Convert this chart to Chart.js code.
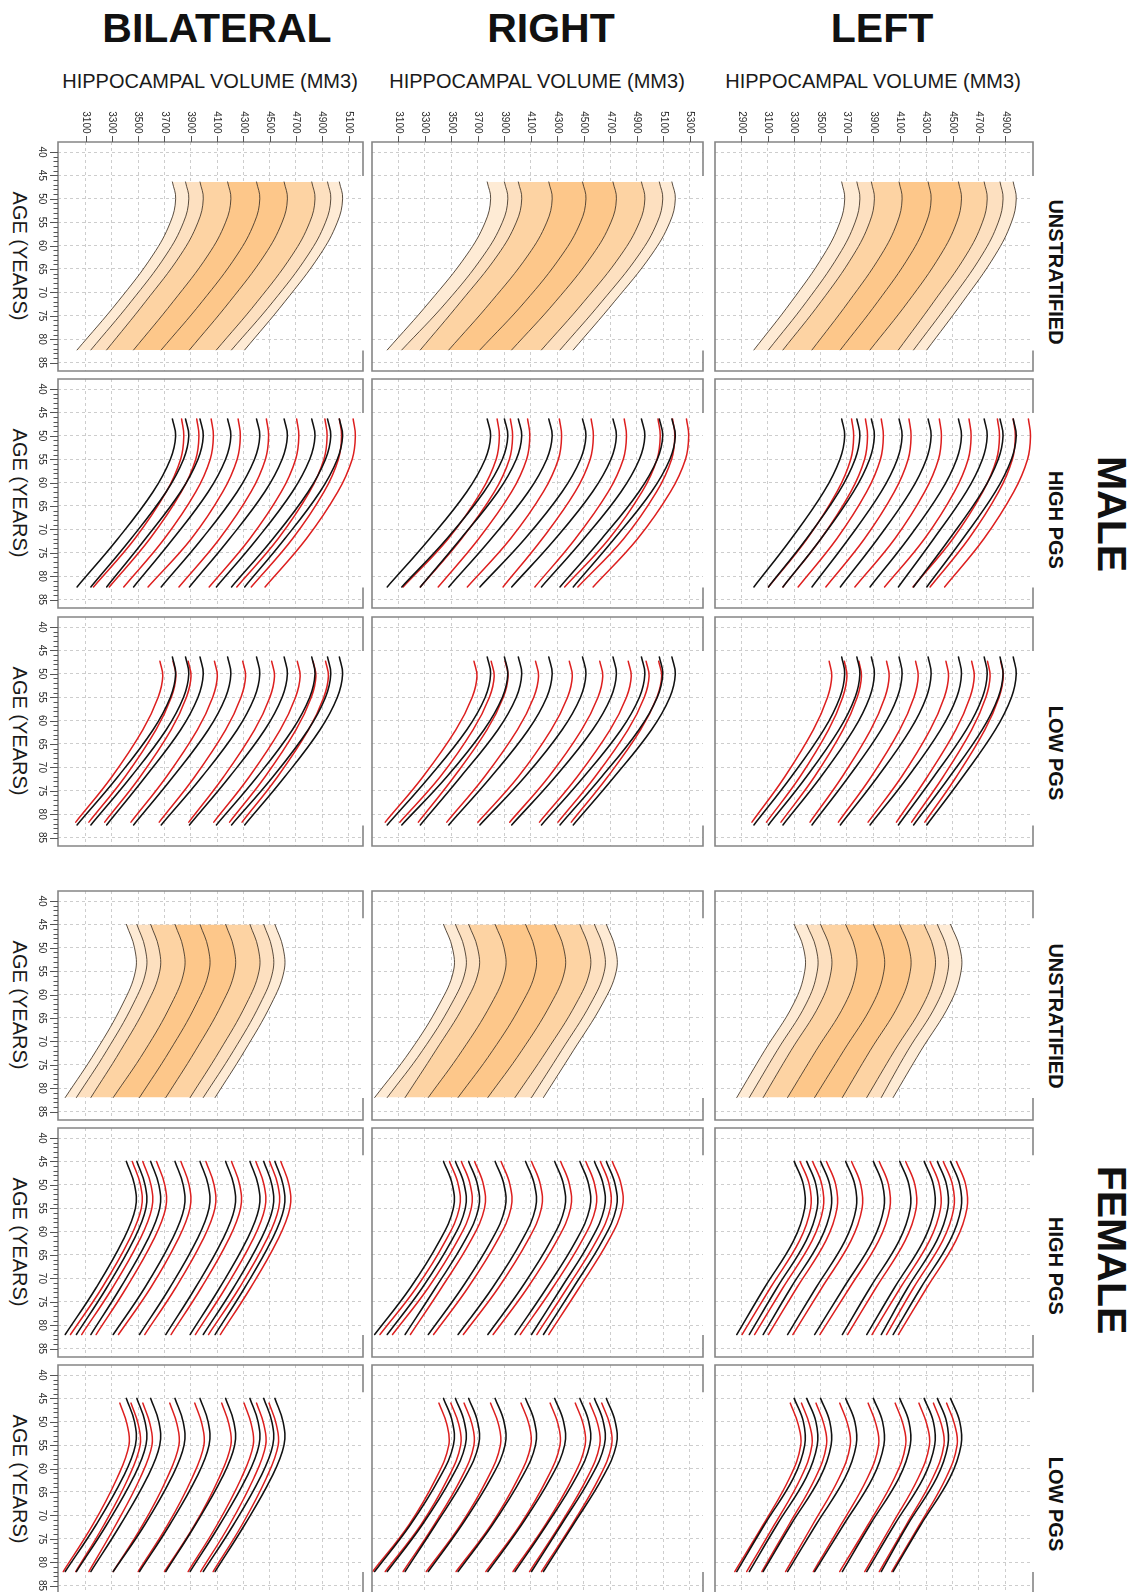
<!DOCTYPE html>
<html>
<head>
<meta charset="utf-8">
<script src="https://cdn.jsdelivr.net/npm/chart.js@4/dist/chart.umd.min.js"></script>
<style>
  html, body { margin: 0; padding: 0; background: #fff; }
  body { width: 1135px; height: 1592px; position: relative; overflow: hidden;
         font-family: "Liberation Sans", Arial, Helvetica, sans-serif; color: #111; }
  .lbl { position: absolute; white-space: nowrap; line-height: 1; transform: translate(-50%, -50%); }
  .rot { transform: translate(-50%, -50%) rotate(90deg); }
  .title { font-weight: bold; font-size: 41px; }
  .axis { font-size: 20px; color: #1a1a1a; }
  .strip { font-weight: bold; font-size: 20px; }
  .sex { font-weight: bold; font-size: 41px; }
  canvas { position: absolute; }
</style>
</head>
<body>

<div class="lbl title" style="left:217px;top:28px">BILATERAL</div>
<div class="lbl title" style="left:551px;top:28px">RIGHT</div>
<div class="lbl title" style="left:882px;top:28px">LEFT</div>

<div class="lbl axis" style="left:210px;top:81px">HIPPOCAMPAL VOLUME (MM3)</div>
<div class="lbl axis" style="left:537px;top:81px">HIPPOCAMPAL VOLUME (MM3)</div>
<div class="lbl axis" style="left:873px;top:81px">HIPPOCAMPAL VOLUME (MM3)</div>

<div class="lbl axis rot" style="left:20px;top:256px">AGE (YEARS)</div>
<div class="lbl axis rot" style="left:20px;top:493px">AGE (YEARS)</div>
<div class="lbl axis rot" style="left:20px;top:731px">AGE (YEARS)</div>
<div class="lbl axis rot" style="left:20px;top:1005px">AGE (YEARS)</div>
<div class="lbl axis rot" style="left:20px;top:1242px">AGE (YEARS)</div>
<div class="lbl axis rot" style="left:20px;top:1479px">AGE (YEARS)</div>

<div class="lbl strip rot" style="left:1056px;top:272px">UNSTRATIFIED</div>
<div class="lbl strip rot" style="left:1056px;top:520px">HIGH PGS</div>
<div class="lbl strip rot" style="left:1056px;top:753px">LOW PGS</div>
<div class="lbl strip rot" style="left:1056px;top:1016px">UNSTRATIFIED</div>
<div class="lbl strip rot" style="left:1056px;top:1266px">HIGH PGS</div>
<div class="lbl strip rot" style="left:1056px;top:1504px">LOW PGS</div>

<div class="lbl sex rot" style="left:1111px;top:514px">MALE</div>
<div class="lbl sex rot" style="left:1111px;top:1250px">FEMALE</div>

<script>
// ---------- axis ticks ----------
const BILATERAL_TICKS = [3100, 3300, 3500, 3700, 3900, 4100, 4300, 4500, 4700, 4900, 5100];
const RIGHT_TICKS     = [3100, 3300, 3500, 3700, 3900, 4100, 4300, 4500, 4700, 4900, 5100, 5300];
const LEFT_TICKS      = [2900, 3100, 3300, 3500, 3700, 3900, 4100, 4300, 4500, 4700, 4900];
const AGE_TICKS       = [40, 45, 50, 55, 60, 65, 70, 75, 80, 85];

// ---------- ages at which each centile curve is given ----------
const AGES_MALE           = [46.4, 50, 55, 62, 72, 82.3];
const AGES_MALE_LOW_PGS   = [47.3, 50.5, 55, 62, 72, 81.7];
const AGES_FEMALE         = [45, 50, 55, 62, 72, 82];
const AGES_FEMALE_LOW_PGS = [46, 50.5, 55, 62, 72, 82];

const CENTILES = ['2.5', '5', '10', '25', '50', '75', '90', '95', '97.5'];

// ---------- MALE: whole-sample centile curves (volume in mm3 per age) ----------
const maleBilateral = [
  [3760, 3785, 3745, 3612, 3345, 3035],
  [3860, 3885, 3845, 3712, 3445, 3140],
  [3970, 3995, 3955, 3822, 3555, 3260],
  [4180, 4205, 4165, 4032, 3765, 3465],
  [4400, 4425, 4385, 4252, 3985, 3675],
  [4610, 4635, 4595, 4462, 4195, 3890],
  [4820, 4845, 4805, 4672, 4405, 4095],
  [4940, 4965, 4925, 4792, 4525, 4210],
  [5030, 5055, 5015, 4882, 4615, 4310]
];
const maleRight = [
  [3770, 3796, 3755, 3615, 3335, 3015],
  [3900, 3926, 3885, 3745, 3465, 3125],
  [4005, 4031, 3990, 3850, 3570, 3265],
  [4235, 4261, 4220, 4080, 3800, 3480],
  [4490, 4516, 4475, 4335, 4055, 3715],
  [4720, 4746, 4705, 4565, 4285, 3955],
  [4935, 4961, 4920, 4780, 4500, 4180],
  [5070, 5096, 5055, 4915, 4635, 4320],
  [5165, 5191, 5150, 5010, 4730, 4420]
];
const maleLeft = [
  [3660, 3683, 3647, 3524, 3278, 2995],
  [3775, 3798, 3762, 3639, 3393, 3105],
  [3885, 3908, 3872, 3749, 3503, 3215],
  [4095, 4118, 4082, 3959, 3713, 3435],
  [4315, 4338, 4302, 4179, 3933, 3650],
  [4545, 4568, 4532, 4409, 4163, 3875],
  [4740, 4763, 4727, 4604, 4358, 4090],
  [4860, 4883, 4847, 4724, 4478, 4205],
  [4960, 4983, 4947, 4824, 4578, 4305]
];

// ---------- MALE: centile curves within PGS strata ----------
const maleBilateralHighPgs = [
  [3830, 3847, 3823, 3713, 3474, 3160],
  [3945, 3962, 3938, 3828, 3589, 3280],
  [4055, 4072, 4048, 3938, 3699, 3390],
  [4260, 4277, 4253, 4143, 3904, 3575],
  [4475, 4492, 4468, 4358, 4119, 3810],
  [4705, 4722, 4698, 4588, 4349, 4040],
  [4920, 4937, 4913, 4803, 4564, 4250],
  [5030, 5047, 5023, 4913, 4674, 4360],
  [5135, 5152, 5128, 5018, 4779, 4465]
];
const maleRightHighPgs = [
  [3845, 3862, 3838, 3724, 3476, 3135],
  [3945, 3962, 3938, 3824, 3576, 3265],
  [4075, 4092, 4068, 3954, 3706, 3400],
  [4315, 4332, 4308, 4194, 3946, 3620],
  [4555, 4572, 4548, 4434, 4186, 3890],
  [4805, 4822, 4798, 4684, 4436, 4130],
  [5060, 5077, 5053, 4939, 4691, 4355],
  [5170, 5187, 5163, 5049, 4801, 4455],
  [5275, 5292, 5268, 5154, 4906, 4570]
];
const maleLeftHighPgs = [
  [3735, 3751, 3729, 3624, 3398, 3105],
  [3840, 3856, 3834, 3729, 3503, 3215],
  [3960, 3976, 3954, 3849, 3623, 3330],
  [4170, 4186, 4164, 4059, 3833, 3540],
  [4400, 4416, 4394, 4289, 4063, 3760],
  [4625, 4641, 4619, 4514, 4288, 3985],
  [4840, 4856, 4834, 4729, 4503, 4200],
  [4960, 4976, 4954, 4849, 4623, 4330],
  [5075, 5091, 5069, 4964, 4738, 4440]
];
const maleBilateralLowPgs = [
  [3665, 3687, 3652, 3535, 3300, 3025],
  [3765, 3787, 3752, 3635, 3400, 3125],
  [3880, 3902, 3867, 3750, 3515, 3245],
  [4080, 4102, 4067, 3950, 3715, 3445],
  [4295, 4317, 4282, 4165, 3930, 3660],
  [4515, 4537, 4502, 4385, 4150, 3885],
  [4710, 4732, 4697, 4580, 4345, 4075],
  [4830, 4852, 4817, 4700, 4465, 4195],
  [4925, 4947, 4912, 4795, 4560, 4290]
];
const maleRightLowPgs = [
  [3670, 3693, 3657, 3533, 3285, 3000],
  [3800, 3823, 3787, 3663, 3415, 3110],
  [3905, 3928, 3892, 3768, 3520, 3250],
  [4135, 4158, 4122, 3998, 3750, 3465],
  [4390, 4413, 4377, 4253, 4005, 3700],
  [4620, 4643, 4607, 4483, 4235, 3940],
  [4835, 4858, 4822, 4698, 4450, 4165],
  [4970, 4993, 4957, 4833, 4585, 4305],
  [5065, 5088, 5052, 4928, 4680, 4405]
];
const maleLeftLowPgs = [
  [3565, 3585, 3553, 3445, 3229, 2980],
  [3680, 3700, 3668, 3560, 3344, 3090],
  [3790, 3810, 3778, 3670, 3454, 3200],
  [4000, 4020, 3988, 3880, 3664, 3420],
  [4220, 4240, 4208, 4100, 3884, 3635],
  [4450, 4470, 4438, 4330, 4114, 3860],
  [4645, 4665, 4633, 4525, 4309, 4075],
  [4765, 4785, 4753, 4645, 4429, 4190],
  [4865, 4885, 4853, 4745, 4529, 4290]
];

// ---------- FEMALE: whole-sample centile curves ----------
const femaleBilateral = [
  [3410, 3472, 3479, 3382, 3180, 2945],
  [3490, 3552, 3559, 3462, 3260, 3030],
  [3595, 3657, 3664, 3567, 3365, 3140],
  [3780, 3842, 3849, 3752, 3550, 3310],
  [3970, 4032, 4039, 3942, 3740, 3510],
  [4165, 4227, 4234, 4137, 3935, 3710],
  [4350, 4412, 4419, 4322, 4120, 3895],
  [4455, 4517, 4524, 4427, 4225, 3995],
  [4540, 4602, 4609, 4512, 4310, 4085]
];
const femaleRight = [
  [3440, 3507, 3515, 3410, 3190, 2920],
  [3530, 3597, 3605, 3500, 3280, 3015],
  [3630, 3697, 3705, 3600, 3380, 3150],
  [3830, 3897, 3905, 3800, 3580, 3325],
  [4060, 4127, 4135, 4030, 3810, 3550],
  [4280, 4347, 4355, 4250, 4030, 3775],
  [4470, 4537, 4545, 4440, 4220, 3980],
  [4580, 4647, 4655, 4550, 4330, 4105],
  [4670, 4737, 4745, 4640, 4420, 4195]
];
const femaleLeft = [
  [3300, 3370, 3380, 3295, 3075, 2865],
  [3395, 3465, 3475, 3390, 3170, 2960],
  [3500, 3570, 3580, 3495, 3275, 3065],
  [3690, 3760, 3770, 3685, 3465, 3250],
  [3900, 3970, 3980, 3895, 3675, 3455],
  [4100, 4170, 4180, 4095, 3875, 3665],
  [4285, 4355, 4365, 4280, 4060, 3850],
  [4385, 4455, 4465, 4380, 4160, 3960],
  [4485, 4555, 4565, 4480, 4260, 4050]
];

// ---------- FEMALE: centile curves within PGS strata ----------
const femaleBilateralHighPgs = [
  [3455, 3517, 3524, 3427, 3225, 2985],
  [3535, 3597, 3604, 3507, 3305, 3070],
  [3640, 3702, 3709, 3612, 3410, 3180],
  [3825, 3887, 3894, 3797, 3595, 3350],
  [4015, 4077, 4084, 3987, 3785, 3550],
  [4210, 4272, 4279, 4182, 3980, 3750],
  [4395, 4457, 4464, 4367, 4165, 3935],
  [4500, 4562, 4569, 4472, 4270, 4035],
  [4585, 4647, 4654, 4557, 4355, 4125]
];
const femaleRightHighPgs = [
  [3485, 3552, 3560, 3455, 3235, 2960],
  [3575, 3642, 3650, 3545, 3325, 3055],
  [3675, 3742, 3750, 3645, 3425, 3190],
  [3875, 3942, 3950, 3845, 3625, 3365],
  [4105, 4172, 4180, 4075, 3855, 3590],
  [4325, 4392, 4400, 4295, 4075, 3815],
  [4515, 4582, 4590, 4485, 4265, 4020],
  [4625, 4692, 4700, 4595, 4375, 4145],
  [4715, 4782, 4790, 4685, 4465, 4235]
];
const femaleLeftHighPgs = [
  [3345, 3415, 3425, 3340, 3120, 2905],
  [3440, 3510, 3520, 3435, 3215, 3000],
  [3545, 3615, 3625, 3540, 3320, 3105],
  [3735, 3805, 3815, 3730, 3510, 3290],
  [3945, 4015, 4025, 3940, 3720, 3495],
  [4145, 4215, 4225, 4140, 3920, 3705],
  [4330, 4400, 4410, 4325, 4105, 3890],
  [4430, 4500, 4510, 4425, 4205, 4000],
  [4530, 4600, 4610, 4525, 4305, 4090]
];
const femaleBilateralLowPgs = [
  [3360, 3415, 3430, 3340, 3155, 2930],
  [3445, 3500, 3515, 3425, 3240, 3025],
  [3535, 3590, 3605, 3515, 3330, 3125],
  [3740, 3795, 3810, 3720, 3535, 3310],
  [3930, 3985, 4000, 3910, 3725, 3500],
  [4135, 4190, 4205, 4115, 3930, 3700],
  [4305, 4360, 4375, 4285, 4100, 3880],
  [4400, 4455, 4470, 4380, 4195, 3975],
  [4495, 4550, 4565, 4475, 4290, 4070]
];
const femaleRightLowPgs = [
  [3405, 3465, 3480, 3385, 3180, 2905],
  [3495, 3555, 3570, 3475, 3270, 3000],
  [3595, 3655, 3670, 3575, 3370, 3135],
  [3795, 3855, 3870, 3775, 3570, 3310],
  [4025, 4085, 4100, 4005, 3800, 3535],
  [4245, 4305, 4320, 4225, 4020, 3760],
  [4435, 4495, 4510, 4415, 4210, 3965],
  [4545, 4605, 4620, 4525, 4320, 4090],
  [4635, 4695, 4710, 4615, 4410, 4180]
];
const femaleLeftLowPgs = [
  [3270, 3330, 3350, 3265, 3065, 2850],
  [3355, 3415, 3435, 3350, 3150, 2940],
  [3465, 3525, 3545, 3460, 3260, 3055],
  [3645, 3705, 3725, 3640, 3440, 3235],
  [3860, 3920, 3940, 3855, 3655, 3445],
  [4065, 4125, 4145, 4060, 3860, 3645],
  [4245, 4305, 4325, 4240, 4040, 3835],
  [4355, 4415, 4435, 4350, 4150, 3945],
  [4455, 4515, 4535, 4450, 4250, 4040]
];

// ---------- page layout ----------
const COL_LEFT  = [58, 372, 715];
const COL_WIDTH = [305, 331, 318];
const ROW_TOP   = [142, 379, 617, 891, 1128, 1365];
const PANEL_H   = 229;
const X_RANGE   = [[2890, 5210], [2900, 5400], [2700, 5110]];
const COL_TICKS = [BILATERAL_TICKS, RIGHT_TICKS, LEFT_TICKS];
const AGE_RANGE = [37.86, 86.8];

// band shades between neighbouring centiles, outermost to innermost
const BAND_SHADES = ['#feebd5', '#fde0c0', '#fdd3a3', '#fdc78a'];
const BAND_INDEX  = [0, 1, 2, 3, 3, 2, 1, 0];

const PANELS = [
  { row: 0, col: 0, base: maleBilateral, ages: AGES_MALE },
  { row: 0, col: 1, base: maleRight,     ages: AGES_MALE },
  { row: 0, col: 2, base: maleLeft,      ages: AGES_MALE },
  { row: 1, col: 0, base: maleBilateral, ages: AGES_MALE, strat: maleBilateralHighPgs, stratAges: AGES_MALE },
  { row: 1, col: 1, base: maleRight,     ages: AGES_MALE, strat: maleRightHighPgs,     stratAges: AGES_MALE },
  { row: 1, col: 2, base: maleLeft,      ages: AGES_MALE, strat: maleLeftHighPgs,      stratAges: AGES_MALE },
  { row: 2, col: 0, base: maleBilateral, ages: AGES_MALE, strat: maleBilateralLowPgs,  stratAges: AGES_MALE_LOW_PGS },
  { row: 2, col: 1, base: maleRight,     ages: AGES_MALE, strat: maleRightLowPgs,      stratAges: AGES_MALE_LOW_PGS },
  { row: 2, col: 2, base: maleLeft,      ages: AGES_MALE, strat: maleLeftLowPgs,       stratAges: AGES_MALE_LOW_PGS },
  { row: 3, col: 0, base: femaleBilateral, ages: AGES_FEMALE },
  { row: 3, col: 1, base: femaleRight,     ages: AGES_FEMALE },
  { row: 3, col: 2, base: femaleLeft,      ages: AGES_FEMALE },
  { row: 4, col: 0, base: femaleBilateral, ages: AGES_FEMALE, strat: femaleBilateralHighPgs, stratAges: AGES_FEMALE },
  { row: 4, col: 1, base: femaleRight,     ages: AGES_FEMALE, strat: femaleRightHighPgs,     stratAges: AGES_FEMALE },
  { row: 4, col: 2, base: femaleLeft,      ages: AGES_FEMALE, strat: femaleLeftHighPgs,      stratAges: AGES_FEMALE },
  { row: 5, col: 0, base: femaleBilateral, ages: AGES_FEMALE, strat: femaleBilateralLowPgs,  stratAges: AGES_FEMALE_LOW_PGS },
  { row: 5, col: 1, base: femaleRight,     ages: AGES_FEMALE, strat: femaleRightLowPgs,      stratAges: AGES_FEMALE_LOW_PGS },
  { row: 5, col: 2, base: femaleLeft,      ages: AGES_FEMALE, strat: femaleLeftLowPgs,       stratAges: AGES_FEMALE_LOW_PGS }
];

const TICK_FONT = '10px "Liberation Sans", Arial, sans-serif';

// Panel frame, rotated tick labels and the age tick comb
const panelFrame = {
  id: 'panelFrame',
  afterDraw(chart, args, opts) {
    const { ctx, chartArea: a, scales: { x, y } } = chart;
    ctx.save();
    // frame; the right edge is interrupted where the curves meet it
    ctx.strokeStyle = '#858585';
    ctx.lineWidth = 1.6;
    const gapTop = y.getPixelForValue(opts.ageSpan[0] - 1.3);
    const gapBot = y.getPixelForValue(opts.ageSpan[1] + 0.1);
    ctx.beginPath();
    ctx.moveTo(a.right, gapTop);
    ctx.lineTo(a.right, a.top);
    ctx.lineTo(a.left, a.top);
    ctx.lineTo(a.left, a.bottom);
    ctx.lineTo(a.right, a.bottom);
    ctx.lineTo(a.right, gapBot);
    ctx.stroke();

    ctx.fillStyle = '#2a2a2a';
    ctx.strokeStyle = '#555';
    ctx.lineWidth = 1;
    ctx.font = TICK_FONT;

    if (opts.ageAxis) {
      const first = AGE_TICKS[0], last = AGE_TICKS[AGE_TICKS.length - 1];
      ctx.beginPath();
      for (let age = first; age <= last; age++) {
        const py = Math.round(y.getPixelForValue(age)) + 0.5;
        const len = AGE_TICKS.includes(age) ? 8 : 4.5;
        ctx.moveTo(a.left, py);
        ctx.lineTo(a.left - len, py);
      }
      ctx.stroke();
      AGE_TICKS.forEach(age => {
        const py = y.getPixelForValue(age);
        ctx.save();
        ctx.translate(a.left - 16.5, py);
        ctx.rotate(Math.PI / 2);
        ctx.textAlign = 'center';
        ctx.textBaseline = 'middle';
        ctx.fillText(String(age), 0, 0);
        ctx.restore();
      });
    }

    if (opts.volumeAxis) {
      ctx.beginPath();
      opts.volumeTicks.forEach(v => {
        const px = Math.round(x.getPixelForValue(v)) + 0.5;
        ctx.moveTo(px, a.top);
        ctx.lineTo(px, a.top - 6);
      });
      ctx.stroke();
      opts.volumeTicks.forEach(v => {
        const px = x.getPixelForValue(v);
        ctx.save();
        ctx.translate(px, a.top - 8.5);
        ctx.rotate(Math.PI / 2);
        ctx.textAlign = 'right';
        ctx.textBaseline = 'middle';
        ctx.fillText(String(v), 0, 0);
        ctx.restore();
      });
    }
    ctx.restore();
  }
};

function curvePoints(curve, ages) {
  return ages.map((age, k) => ({ x: curve[k], y: age }));
}

function buildPanel(p) {
  const padL = p.col === 0 ? 42 : 3;
  const padT = p.row === 0 ? 40 : 3;
  const padR = 3, padB = 3;
  const w = COL_WIDTH[p.col], h = PANEL_H;
  const cv = document.createElement('canvas');
  cv.width = w + padL + padR;
  cv.height = h + padT + padB;
  cv.style.left = (COL_LEFT[p.col] - padL) + 'px';
  cv.style.top = (ROW_TOP[p.row] - padT) + 'px';
  cv.style.width = cv.width + 'px';
  cv.style.height = cv.height + 'px';
  document.body.appendChild(cv);

  const datasets = [];
  const stratified = !!p.strat;
  p.base.forEach((curve, i) => {
    datasets.push({
      label: 'all ' + CENTILES[i],
      data: curvePoints(curve, p.ages),
      borderColor: stratified ? '#111111' : 'rgba(50,36,22,0.85)',
      borderWidth: stratified ? 1.55 : 0.95,
      backgroundColor: i > 0 ? BAND_SHADES[BAND_INDEX[i - 1]] : 'transparent',
      fill: (!stratified && i > 0) ? '-1' : false
    });
  });
  if (stratified) {
    p.strat.forEach((curve, i) => {
      datasets.push({
        label: 'PGS ' + CENTILES[i],
        data: curvePoints(curve, p.stratAges),
        borderColor: '#dd1f1f',
        borderWidth: 1.5,
        fill: false
      });
    });
  }

  const ticks = COL_TICKS[p.col];
  const gridStyle = { color: '#cdcdcd', lineWidth: 1, drawTicks: false };
  new Chart(cv, {
    type: 'line',
    data: { datasets },
    options: {
      responsive: false,
      animation: false,
      indexAxis: 'y',
      events: [],
      layout: { padding: { left: padL, top: padT, right: padR, bottom: padB } },
      elements: { point: { radius: 0 }, line: { tension: 0.4, borderCapStyle: 'round' } },
      plugins: {
        legend: { display: false },
        tooltip: { enabled: false },
        panelFrame: {
          ageAxis: p.col === 0,
          volumeAxis: p.row === 0,
          volumeTicks: ticks,
          ageSpan: [p.ages[0], p.ages[p.ages.length - 1]]
        }
      },
      scales: {
        x: {
          type: 'linear', position: 'top',
          min: X_RANGE[p.col][0], max: X_RANGE[p.col][1],
          afterBuildTicks: s => { s.ticks = ticks.map(v => ({ value: v })); },
          ticks: { display: false },
          grid: gridStyle,
          border: { display: false, dash: [3, 3] }
        },
        y: {
          type: 'linear', position: 'left', reverse: true,
          min: AGE_RANGE[0], max: AGE_RANGE[1],
          afterBuildTicks: s => { s.ticks = AGE_TICKS.map(v => ({ value: v })); },
          ticks: { display: false },
          grid: gridStyle,
          border: { display: false, dash: [3, 3] }
        }
      }
    },
    plugins: [panelFrame]
  });
}

PANELS.forEach(buildPanel);
</script>
</body>
</html>
